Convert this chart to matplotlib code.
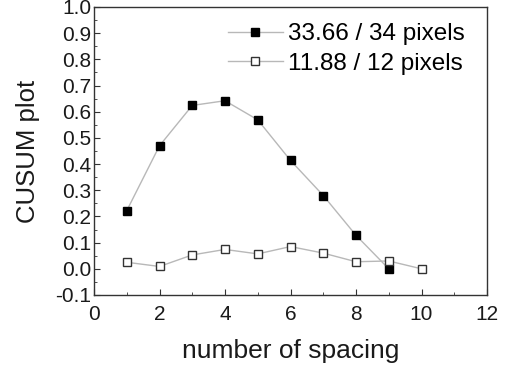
import matplotlib
matplotlib.use("Agg")
import matplotlib.pyplot as plt
from matplotlib.ticker import MultipleLocator, FormatStrFormatter

plt.rcParams['font.family'] = ['Liberation Sans', 'DejaVu Sans']

spacing_a = [1, 2, 3, 4, 5, 6, 7, 8, 9]
cusum_a = [0.222, 0.470, 0.624, 0.642, 0.569, 0.414, 0.280, 0.128, 0.0]
spacing_b = [1, 2, 3, 4, 5, 6, 7, 8, 9, 10]
cusum_b = [0.025, 0.009, 0.053, 0.074, 0.057, 0.085, 0.060, 0.027, 0.030, 0.0]
label_a = "33.66 / 34 pixels"
label_b = "11.88 / 12 pixels"

fig = plt.figure(figsize=(5.11, 3.69), dpi=100)
ax = fig.add_axes([94/511, 1 - 295/369, (487-94)/511, (295-7)/369])

ax.plot(spacing_a, cusum_a, color='#b8b8b8', lw=1.0, marker='s', ms=6.3,
        mfc='black', mec='black', label=label_a, zorder=3)
ax.plot(spacing_b, cusum_b, color='#b8b8b8', lw=1.0, marker='s', ms=6.3,
        mfc='white', mec='#333333', mew=1.0, label=label_b, zorder=3)

ax.set_xlim(0, 12)
ax.set_ylim(-0.1, 1.0)
ax.xaxis.set_major_locator(MultipleLocator(2))
ax.xaxis.set_minor_locator(MultipleLocator(1))
ax.yaxis.set_major_locator(MultipleLocator(0.1))
ax.yaxis.set_minor_locator(MultipleLocator(0.05))
ax.yaxis.set_major_formatter(FormatStrFormatter('%.1f'))

ax.tick_params(which='both', direction='in', top=False, right=False,
               labelsize=15, color='#333333', labelcolor='#1a1a1a')
ax.tick_params(which='major', length=4)
ax.tick_params(which='minor', length=2.5)
ax.tick_params(axis='x', which='major', pad=7)
ax.tick_params(axis='y', which='major', pad=2)
for s in ax.spines.values():
    s.set_color('#333333')
    s.set_linewidth(1.0)

ax.set_xlabel("number of spacing", fontsize=19, labelpad=11, color='#1a1a1a')
ax.set_ylabel("CUSUM plot", fontsize=18.5, labelpad=11, color='#1a1a1a')

ax.legend(loc='upper right', frameon=False, fontsize=17.5, handlelength=2.3,
          handletextpad=0.2, borderaxespad=0.1, labelspacing=0.3,
          bbox_to_anchor=(0.975, 0.985))

fig.savefig("out.png", dpi=100)
